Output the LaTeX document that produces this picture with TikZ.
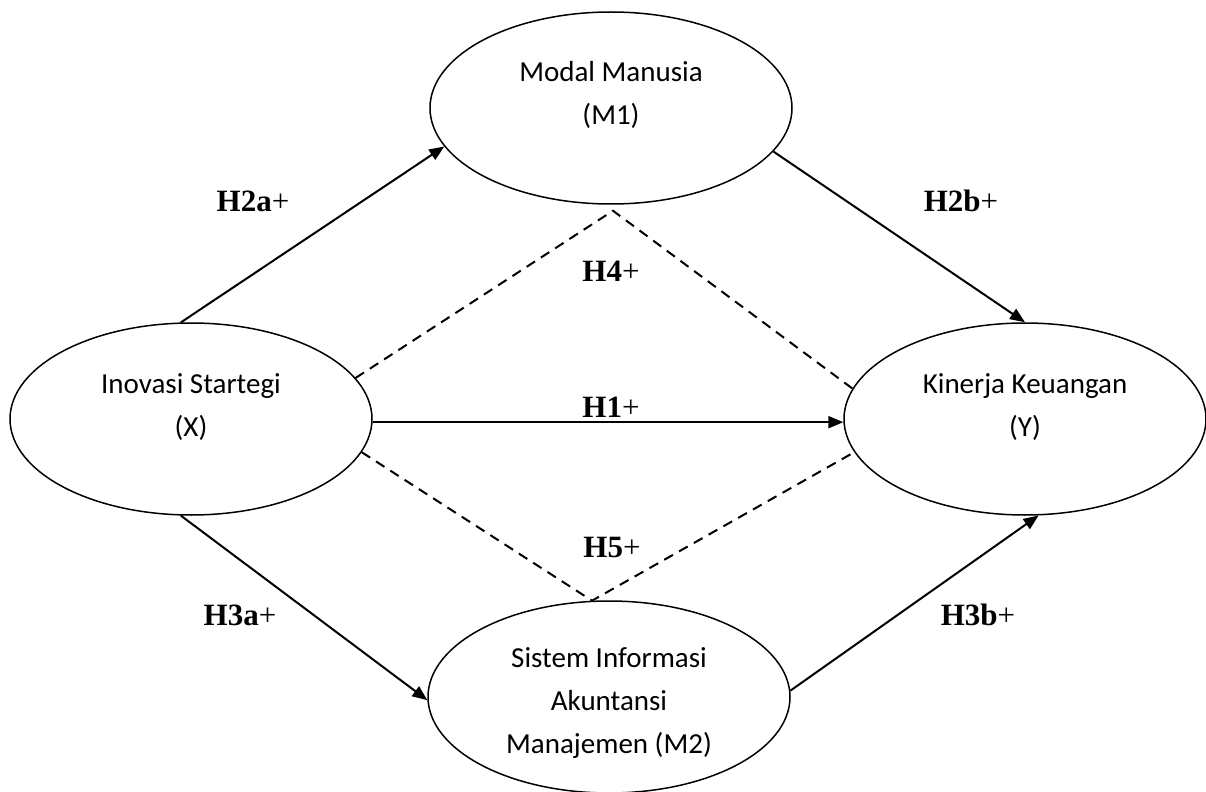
\documentclass[tikz,border=0pt]{standalone}
\usepackage{fontspec}
\setmainfont{Carlito}
\newfontfamily\hypfont{Liberation Serif}
\usetikzlibrary{calc, arrows.meta, shapes.geometric}
\tikzset{
	construct/.style = {ellipse, draw, line width=0.75pt, minimum width=181pt, minimum height=96pt, inner sep=0pt},
	constext/.style = {align=center, font=\fontsize{14.5}{21.5}\selectfont, inner sep=0pt},
	link/.style = {line width=1pt, -{Triangle[length=7.5pt, width=6pt]}},
	mediation/.style = {line width=1pt, dash pattern=on 5pt off 3.5pt},
	hyp/.style = {font=\fontsize{15.5}{18}\selectfont, inner sep=0pt},
}
\newcommand\hyplabel[1]{{\hypfont\textbf{H#1}+}}

\begin{document}
\begin{tikzpicture}[x=0.5pt, y=-0.5pt]
			\useasboundingbox (0,0) rectangle (1206,792);
			\node[construct] (M) at (611,108) {};
			\node[construct] (I) at (191,419) {};
			\node[construct] (K) at (1025,419) {};
			\node[construct] (S) at (609,697) {};
			\node[constext] (Mtext) at (611,95) {Modal Manusia\\(M1)};
			\node[constext] (Itext) at (191,407) {Inovasi Startegi\\(X)};
			\node[constext] (Ktext) at (1025,407) {Kinerja Keuangan\\(Y)};
			\node[constext] (Stext) at (609,703) {Sistem Informasi\\Akuntansi\\Manajemen (M2)};
			\coordinate (upper) at ($(M.south)+(2,6)$);
			\draw[link] (I.96) -- (M.193);
			\draw[link] (M.345) -- (K.north);
			\draw[link] (I.359) -- (K.181);
			\draw[link] (I.264) -- (S.181);
			\draw[link] (S.2) -- (K.278);
			\draw[mediation] (I.14) -- (upper) -- (K.170);
			\draw[mediation] (I.349) -- (S.100) -- (K.191);
			\node[hyp] (h2a) at (253,201) {\hyplabel{2a}};
			\node[hyp] (h2b) at (961,201) {\hyplabel{2b}};
			\node[hyp] (h4) at (611,271) {\hyplabel{4}};
			\node[hyp] (h1) at (611,407) {\hyplabel{1}};
			\node[hyp] (h5) at (612,547) {\hyplabel{5}};
			\node[hyp] (h3a) at (240,615) {\hyplabel{3a}};
			\node[hyp] (h3b) at (978,615) {\hyplabel{3b}};
		\end{tikzpicture}
\end{document}
